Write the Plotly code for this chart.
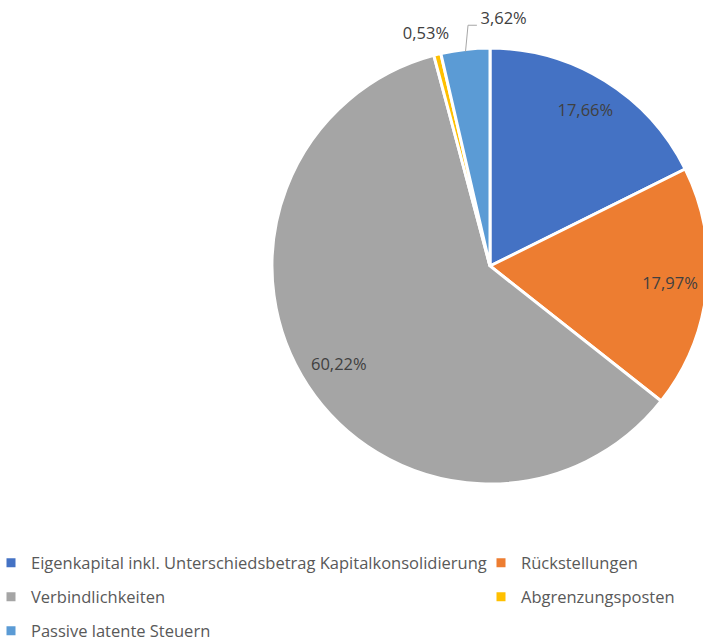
import plotly.graph_objects as go

# ---- data ----
categories = [
    "Eigenkapital inkl. Unterschiedsbetrag Kapitalkonsolidierung",
    "Rückstellungen",
    "Verbindlichkeiten",
    "Abgrenzungsposten",
    "Passive latente Steuern",
]
shares = [17.66, 17.97, 60.22, 0.53, 3.62]
colors = ["#4472C4", "#ED7D31", "#A5A5A5", "#FFC000", "#5B9BD5"]

# ---- styling / geometry constants ----
W, H = 760, 644
FONT = "Open Sans"
FSIZE = 16.5
CX, CY, RPIE = 490, 266, 218      # pie centre / radius in px
RMAX = 1.15                        # radial range head-room for outside labels
LABEL_R_IN = 0.83
legend_of = ["legend", "legend2", "legend", "legend2", "legend"]

total = sum(shares)
widths = [s / total * 360.0 for s in shares]
mids = []
acc = 0.0
for w in widths:
    mids.append(acc + w / 2.0)
    acc += w


def fmt(v):
    return f"{v:.2f}".replace(".", ",") + "%"


fig = go.Figure()

for i, (name, w, m, col) in enumerate(zip(categories, widths, mids, colors)):
    fig.add_trace(go.Barpolar(
        r=[1], theta=[m], width=[w], name=name,
        marker=dict(color=col, line=dict(color="white", width=3)),
        legend=legend_of[i], legendgroup=name,
        hovertemplate=name + ": " + fmt(shares[i]) + "<extra></extra>",
    ))

# inside labels for the three large slices
fig.add_trace(go.Scatterpolar(
    r=[LABEL_R_IN] * 3, theta=mids[:3], mode="text",
    text=[fmt(v) for v in shares[:3]],
    textposition="middle center",
    textfont=dict(family=FONT, size=FSIZE, color="#404040"),
    showlegend=False, hoverinfo="skip", cliponaxis=False,
))

# outside labels for the small slices
fig.add_trace(go.Scatterpolar(
    r=[1.10, 1.129], theta=[mids[3] - 1.5, mids[4] + 9.7], mode="text",
    text=[fmt(shares[3]), fmt(shares[4])],
    textposition="middle center",
    textfont=dict(family=FONT, size=FSIZE, color="#404040"),
    showlegend=False, hoverinfo="skip", cliponaxis=False,
))

# leader line for the 3,62% label
fig.add_trace(go.Scatterpolar(
    r=[0.99, 1.109, 1.106], theta=[mids[4], mids[4] + 1.3, mids[4] + 3.4],
    mode="lines", line=dict(color="#A6A6A6", width=1),
    showlegend=False, hoverinfo="skip", cliponaxis=False,
))

legend_common = dict(
    orientation="v", xanchor="left", yanchor="top",
    bgcolor="rgba(0,0,0,0)", borderwidth=0,
    font=dict(family=FONT, size=FSIZE, color="#595959"),
    tracegroupgap=9.5,
)

RD = RPIE * RMAX
fig.update_layout(
    width=W, height=H,
    margin=dict(l=0, r=0, t=0, b=0, autoexpand=False),
    paper_bgcolor="white",
    plot_bgcolor="white",
    showlegend=True,
    polar=dict(
        domain=dict(x=[(CX - RD) / W, (CX + RD) / W],
                    y=[1 - (CY + RD) / H, 1 - (CY - RD) / H]),
        bgcolor="rgba(0,0,0,0)",
        hole=0,
        barmode="overlay",
        angularaxis=dict(direction="clockwise", rotation=90, visible=False),
        radialaxis=dict(range=[0, RMAX], visible=False),
    ),
    legend=dict(x=-9 / W, y=1 - 545.5 / H, **legend_common),
    legend2=dict(x=481 / W, y=1 - 545.5 / H, **legend_common),
)

fig.write_html(
    "out.html",
    config={"displayModeBar": False},
    post_script=(
        "document.body.style.margin='0';"
        "document.body.style.overflow='hidden';"
        "document.documentElement.style.overflow='hidden';"
    ),
)
